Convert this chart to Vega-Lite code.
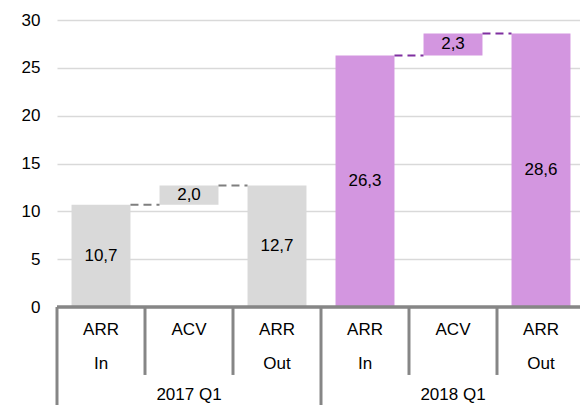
{
  "$schema": "https://vega.github.io/schema/vega-lite/v6.json",
  "width": 528,
  "height": 385,
  "autosize": {"type": "none"},
  "padding": {"left": 57, "top": 20, "right": 0, "bottom": 0},
  "config": {
    "view": {"stroke": null},
    "font": "Liberation Sans"
  },
  "datasets": {
    "bars": [
      {"cat": "2017 Q1 ARR In", "group": "2017 Q1", "l1": "ARR", "l2": "In", "start": 0, "end": 10.7, "label": "10,7"},
      {"cat": "2017 Q1 ACV", "group": "2017 Q1", "l1": "ACV", "l2": "", "start": 10.7, "end": 12.7, "label": "2,0"},
      {"cat": "2017 Q1 ARR Out", "group": "2017 Q1", "l1": "ARR", "l2": "Out", "start": 0, "end": 12.7, "label": "12,7"},
      {"cat": "2018 Q1 ARR In", "group": "2018 Q1", "l1": "ARR", "l2": "In", "start": 0, "end": 26.3, "label": "26,3"},
      {"cat": "2018 Q1 ACV", "group": "2018 Q1", "l1": "ACV", "l2": "", "start": 26.3, "end": 28.6, "label": "2,3"},
      {"cat": "2018 Q1 ARR Out", "group": "2018 Q1", "l1": "ARR", "l2": "Out", "start": 0, "end": 28.6, "label": "28,6"}
    ],
    "links": [
      {"from": "2017 Q1 ARR In", "to": "2017 Q1 ACV", "group": "2017 Q1", "level": 10.7},
      {"from": "2017 Q1 ACV", "to": "2017 Q1 ARR Out", "group": "2017 Q1", "level": 12.7},
      {"from": "2018 Q1 ARR In", "to": "2018 Q1 ACV", "group": "2018 Q1", "level": 26.3},
      {"from": "2018 Q1 ACV", "to": "2018 Q1 ARR Out", "group": "2018 Q1", "level": 28.6}
    ],
    "seps": [
      {"cat": "2017 Q1 ARR In", "kind": "outer"},
      {"cat": "2017 Q1 ACV", "kind": "inner"},
      {"cat": "2017 Q1 ARR Out", "kind": "inner"},
      {"cat": "2018 Q1 ARR In", "kind": "outer"},
      {"cat": "2018 Q1 ACV", "kind": "inner"},
      {"cat": "2018 Q1 ARR Out", "kind": "inner"}
    ],
    "groups": [
      {"cat": "2017 Q1 ACV", "group": "2017 Q1"},
      {"cat": "2018 Q1 ACV", "group": "2018 Q1"}
    ]
  },
  "layer": [
    {
      "data": {"name": "bars"},
      "mark": {"type": "bar", "width": {"band": 0.67}},
      "encoding": {
        "x": {"field": "cat", "type": "nominal", "sort": null,
              "scale": {"domain": ["2017 Q1 ARR In", "2017 Q1 ACV", "2017 Q1 ARR Out", "2018 Q1 ARR In", "2018 Q1 ACV", "2018 Q1 ARR Out"], "paddingInner": 0, "paddingOuter": 0},
              "axis": null},
        "y": {"field": "start", "type": "quantitative",
              "scale": {"domain": [-10.24, 30], "nice": false, "zero": false},
              "axis": {"values": [0, 5, 10, 15, 20, 25, 30], "title": null, "domain": false, "ticks": false,
                       "labelFontSize": 17, "labelColor": "#000000", "labelPadding": 17, "labelFont": "Liberation Sans",
                       "gridColor": "#d9d9d9", "gridWidth": 1.5}},
        "y2": {"field": "end"},
        "color": {"field": "group", "type": "nominal", "scale": {"domain": ["2017 Q1", "2018 Q1"], "range": ["#d9d9d9", "#d396e0"]}, "legend": null}
      }
    },
    {
      "data": {"name": "bars"},
      "transform": [{"calculate": "(datum.start + datum.end) / 2", "as": "mid"}],
      "mark": {"type": "text", "fontSize": 17, "color": "#000000", "baseline": "middle"},
      "encoding": {
        "x": {"field": "cat", "type": "nominal"},
        "y": {"field": "mid", "type": "quantitative"},
        "text": {"field": "label"}
      }
    },
    {
      "data": {"name": "links"},
      "mark": {"type": "rule", "strokeWidth": 2, "strokeDash": [8, 5]},
      "encoding": {
        "x": {"field": "from", "type": "nominal", "bandPosition": 0.835},
        "x2": {"field": "to", "bandPosition": 0.165},
        "y": {"field": "level", "type": "quantitative"},
        "stroke": {"field": "group", "type": "nominal", "scale": {"domain": ["2017 Q1", "2018 Q1"], "range": ["#7f7f7f", "#7f2fa0"]}, "legend": null}
      }
    },
    {
      "data": {"name": "groups"},
      "mark": {"type": "rule", "color": "#868686", "strokeWidth": 3},
      "encoding": {"y": {"datum": 0}}
    },
    {
      "data": {"name": "seps"},
      "transform": [{"filter": "datum.kind === 'inner'"}],
      "mark": {"type": "rule", "color": "#868686", "strokeWidth": 3},
      "encoding": {
        "x": {"field": "cat", "type": "nominal", "bandPosition": 0},
        "y": {"datum": 0},
        "y2": {"datum": -7.1}
      }
    },
    {
      "data": {"name": "seps"},
      "transform": [{"filter": "datum.kind === 'outer'"}],
      "mark": {"type": "rule", "color": "#868686", "strokeWidth": 3},
      "encoding": {
        "x": {"field": "cat", "type": "nominal", "bandPosition": 0},
        "y": {"datum": 0},
        "y2": {"datum": -10.24}
      }
    },
    {
      "data": {"name": "bars"},
      "mark": {"type": "text", "fontSize": 17, "color": "#000000", "baseline": "middle"},
      "encoding": {
        "x": {"field": "cat", "type": "nominal"},
        "y": {"datum": -2.4},
        "text": {"field": "l1"}
      }
    },
    {
      "data": {"name": "bars"},
      "mark": {"type": "text", "fontSize": 17, "color": "#000000", "baseline": "middle"},
      "encoding": {
        "x": {"field": "cat", "type": "nominal"},
        "y": {"datum": -5.97},
        "text": {"field": "l2"}
      }
    },
    {
      "data": {"name": "groups"},
      "mark": {"type": "text", "fontSize": 17, "color": "#000000", "baseline": "middle"},
      "encoding": {
        "x": {"field": "cat", "type": "nominal"},
        "y": {"datum": -9.2},
        "text": {"field": "group"}
      }
    }
  ]
}
